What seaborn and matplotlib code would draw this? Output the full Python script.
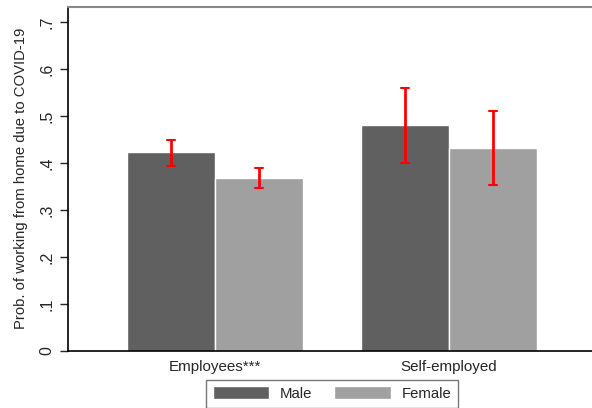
import pandas as pd
import seaborn as sns
import matplotlib.pyplot as plt
from matplotlib.ticker import FuncFormatter

# values
groups = ['Employees***', 'Self-employed']
sexes = ['Male', 'Female']
male_prob = [0.423, 0.481]
female_prob = [0.368, 0.432]
male_lo = [0.394, 0.401]
male_hi = [0.449, 0.560]
female_lo = [0.346, 0.353]
female_hi = [0.389, 0.511]

df = pd.DataFrame({
    'group': groups * 2,
    'sex': ['Male'] * 2 + ['Female'] * 2,
    'prob': male_prob + female_prob,
})
lows = {'Male': male_lo, 'Female': female_lo}
highs = {'Male': male_hi, 'Female': female_hi}

sns.set_style('white')
plt.rcParams['font.family'] = ['Liberation Sans', 'DejaVu Sans']

fig = plt.figure(figsize=(5.92, 4.08), dpi=100)
ax = fig.add_axes([68 / 592, 57 / 408, 528 / 592, 344.5 / 408])

sns.barplot(data=df, x='group', y='prob', hue='sex', hue_order=sexes,
            palette=['#606060', '#a0a0a0'], width=0.752, errorbar=None,
            saturation=1, ax=ax, legend=True)

# red confidence intervals on each bar
for sex, cont in zip(sexes, ax.containers):
    for i, bar in enumerate(cont):
        xc = bar.get_x() + bar.get_width() / 2
        lo, hi = lows[sex][i], highs[sex][i]
        ax.plot([xc, xc], [lo, hi], color='red', lw=2, solid_capstyle='butt', zorder=5)
        ax.plot([xc - 0.016, xc + 0.016], [lo, lo], color='red', lw=1.5, zorder=5)
        ax.plot([xc - 0.016, xc + 0.016], [hi, hi], color='red', lw=1.5, zorder=5)

ax.set_xlim(-0.628, 1.628)
ax.set_ylim(0, 0.733)
ax.set_yticks([0, 0.1, 0.2, 0.3, 0.4, 0.5, 0.6, 0.7])
ax.yaxis.set_major_formatter(FuncFormatter(lambda v, p: '0' if v == 0 else ('%.1f' % v)[1:]))
ax.tick_params(axis='y', left=True, length=6, width=1, pad=4, labelsize=11.5)
for lab in ax.get_yticklabels():
    lab.set_rotation(90)
    lab.set_va('center')
ax.tick_params(axis='x', bottom=False, labelsize=10.9, pad=3)
ax.set_xlabel('')
ax.set_ylabel('Prob. of working from home due to COVID-19', fontsize=10.7, labelpad=8)

for side in ['left', 'bottom']:
    ax.spines[side].set_color('black')
    ax.spines[side].set_linewidth(1.2)
ax.spines['top'].set_color('#888888')
ax.spines['top'].set_linewidth(1.5)
ax.spines['right'].set_visible(False)

leg = ax.legend(loc='upper center', bbox_to_anchor=(0.5, -0.062), ncol=2,
                frameon=True, fancybox=False, fontsize=10.7, handlelength=3.8,
                handleheight=0.95, columnspacing=1.5, handletextpad=0.7,
                borderpad=0.45, edgecolor='#555555')
leg.get_frame().set_linewidth(1)

fig.savefig('out.png', dpi=100)
